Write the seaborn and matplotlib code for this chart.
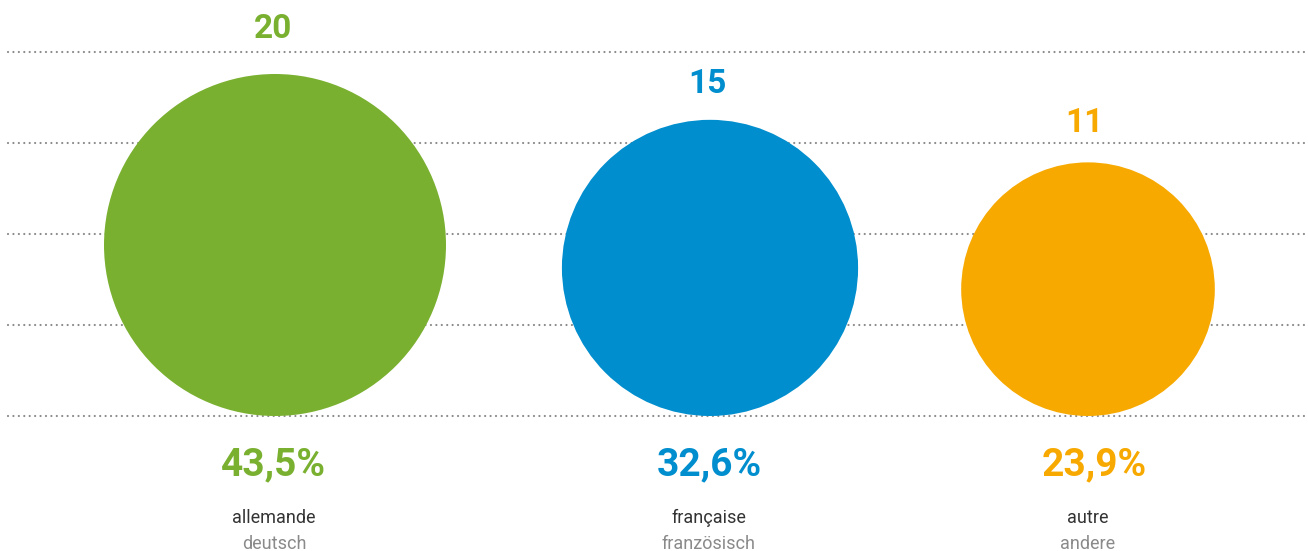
import numpy as np
import pandas as pd
import matplotlib
matplotlib.use('Agg')
import matplotlib.pyplot as plt
import seaborn as sns

# data
values = [20, 15, 11]
shares = ['43,5%', '32,6%', '23,9%']
labels_fr = ['allemande', 'française', 'autre']
labels_de = ['deutsch', 'französisch', 'andere']
colors = ['#7AB030', '#008ECE', '#F7A900']

# layout (pixel units of a 1308x551 canvas, y = text baseline)
W, H, DPI = 1308, 551, 100
centers_x = [275, 710, 1088]
value_xy = [(273, 38), (707, 93), (1084, 132)]
share_x = [273, 709, 1094]
label_x = [274, 709, 1088]
baseline = 416
grid_y = [52, 143, 234, 325, 416]
d_max = 342  # diameter of the largest circle in px

sns.set_theme(style='white')
plt.rcParams['font.family'] = ['Roboto', 'DejaVu Sans']

fig = plt.figure(figsize=(W / DPI, H / DPI), dpi=DPI)
ax = fig.add_axes([0, 0, 1, 1])
ax.set_xlim(0, W)
ax.set_ylim(H, 0)
ax.axis('off')

# dotted guide lines
for gy in grid_y:
    ax.plot([8, W], [gy, gy], color='#8a8a8a', lw=1.6,
            dashes=(0.01, 2.43), dash_capstyle='round', zorder=1)

# circles: area proportional to value, resting on the baseline
df = pd.DataFrame({'cat': labels_fr, 'value': values, 'x': centers_x})
df['d'] = d_max * np.sqrt(df['value'] / max(values))
df['y'] = baseline - df['d'] / 2
df['s'] = (df['d'] * 72 / DPI) ** 2

sns.scatterplot(data=df, x='x', y='y', hue='cat', size='cat',
                sizes=dict(zip(df['cat'], df['s'])),
                palette=dict(zip(labels_fr, colors)),
                linewidth=0, legend=False, ax=ax, zorder=2)
ax.set_xlim(0, W)
ax.set_ylim(H, 0)

for i, row in df.iterrows():
    vx, vy = value_xy[i]
    ax.text(vx, vy, str(row['value']), color=colors[i],
            fontsize=24, fontweight='bold', ha='center', va='baseline')
    ax.text(share_x[i], 475, shares[i], color=colors[i],
            fontsize=28, fontweight='bold', ha='center', va='baseline')
    ax.text(label_x[i], 523, labels_fr[i], color='#333333',
            fontsize=13, ha='center', va='baseline')
    ax.text(label_x[i], 549, labels_de[i], color='#8a8a8a',
            fontsize=13, ha='center', va='baseline')

fig.savefig('out.png', dpi=DPI, facecolor='white')
